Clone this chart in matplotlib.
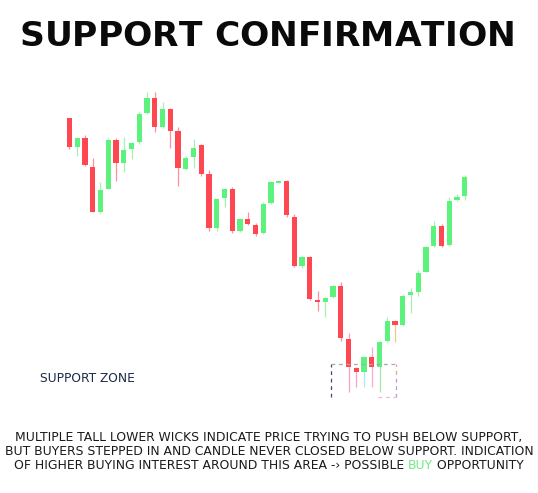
import matplotlib
matplotlib.use("Agg")
import matplotlib.pyplot as plt
import numpy as np

# ---------------- data (price units) ----------------
opens = [301.7, 273.3, 281.7, 253.3, 208.3, 231.0, 280.0, 256.7, 270.7, 277.7,
         306.7, 321.7, 293.3, 310.7, 289.0, 251.0, 263.3, 275.0, 245.7, 191.7,
         221.7, 230.7, 189.3, 200.7, 195.0, 186.7, 216.7, 237.3, 239.0, 203.0,
         154.0, 162.7, 120.0, 118.3, 123.0, 134.0, 81.0, 51.7, 48.3, 63.3,
         52.7, 79.0, 99.0, 95.0, 125.0, 128.3, 148.3, 174.0, 194.0, 175.0,
         220.0, 224.3]
closes = [272.7, 281.7, 255.0, 208.3, 230.0, 280.0, 256.7, 270.0, 276.7, 305.7,
          321.7, 293.3, 310.7, 289.3, 251.7, 262.3, 272.3, 245.7, 191.7, 220.7,
          230.7, 189.3, 200.7, 196.0, 186.0, 216.0, 237.7, 238.7, 205.0, 154.0,
          162.7, 121.0, 118.3, 122.0, 134.0, 81.7, 52.7, 48.3, 63.3, 52.7,
          78.3, 99.0, 95.0, 124.3, 127.7, 146.7, 173.3, 194.0, 174.0, 219.3,
          223.3, 242.7]
highs = [302.0, 283.3, 285.0, 261.7, 237.7, 281.7, 281.7, 282.7, 277.7, 308.3,
         327.7, 327.7, 318.3, 311.7, 292.7, 264.0, 281.0, 276.0, 250.0, 221.7,
         232.3, 233.3, 201.7, 208.3, 197.3, 217.7, 239.0, 239.3, 240.0, 206.0,
         164.0, 164.0, 129.0, 123.0, 135.0, 137.7, 87.3, 52.7, 64.0, 73.3,
         79.0, 103.3, 100.0, 126.0, 131.7, 150.0, 174.0, 199.0, 196.0, 223.3,
         225.7, 245.0]
lows = [271.5, 264.3, 254.0, 207.7, 207.3, 230.7, 239.3, 247.7, 261.0, 276.0,
        306.0, 287.7, 292.3, 271.7, 234.3, 250.3, 251.7, 244.3, 189.3, 189.3,
        212.7, 186.7, 188.3, 195.0, 184.3, 185.7, 216.0, 237.0, 203.3, 153.0,
        151.7, 120.0, 109.3, 103.3, 122.3, 79.0, 27.7, 33.3, 33.3, 33.3,
        27.7, 78.3, 78.3, 94.3, 107.3, 124.0, 147.7, 173.3, 173.3, 174.3,
        219.3, 220.0]

# special wick colours inside the support zone (index -> colour)
special_wicks = {36: "#FF9EC6", 37: "#FF9EC6", 38: "#A6EEF4",
                 39: "#FFA6CE", 40: "#A6E6A6", 42: "#FFC286"}

title = "SUPPORT CONFIRMATION"
zone_label = "SUPPORT ZONE"
line1 = "MULTIPLE TALL LOWER WICKS INDICATE PRICE TRYING TO PUSH BELOW SUPPORT,"
line2 = "BUT BUYERS STEPPED IN AND CANDLE NEVER CLOSED BELOW SUPPORT. INDICATION"
line3_parts = ["OF HIGHER BUYING INTEREST AROUND THIS AREA -› POSSIBLE ", "BUY", " OPPORTUNITY"]

RED = "#FF4752"
GREEN = "#5DF27E"
RED_WICK = "#FF9098"
GREEN_WICK = "#A2F2B4"

# ---------------- figure ----------------
W, H = 538, 493
fig = plt.figure(figsize=(W / 100, H / 100), dpi=100)
fig.patch.set_facecolor("white")
ax = fig.add_axes([0, 0, 1, 1])
ax.axis("off")

step = 7.75
x0 = 69.5
ax.set_xlim(-x0 / step, (W - x0) / step)
ax.set_ylim(420 - H, 420)

o = np.array(opens); c = np.array(closes)
hi = np.array(highs); lo = np.array(lows)
x = np.arange(len(o))
up = c >= o
body_col = np.where(up, GREEN, RED)
wick_col = [special_wicks.get(i, GREEN_WICK if up[i] else RED_WICK) for i in range(len(o))]

ax.vlines(x, lo, hi, colors=wick_col, linewidth=0.9, zorder=1)
ax.bar(x, np.abs(c - o), bottom=np.minimum(o, c), width=0.68,
       color=body_col, edgecolor="none", zorder=2)

# support zone dashed box
bx0, bx1 = 33.7, 42.1
by0, by1 = 22.7, 55.7
dash = dict(linestyle=(0, (3, 3)), linewidth=0.9, zorder=3)
ax.plot([bx0, bx0], [by0, by1], color="#3D4B6B", **dash)
ax.plot([bx0, bx1], [by1, by1], color="#A8A8A8", **dash)
ax.plot([bx1, bx1], [by1 - 10, by1], color="#E8A0A0", **dash)
ax.plot([bx1, bx1], [by0, by1 - 10], color="#B898D8", **dash)
ax.plot([bx1 - 2.3, bx1], [by0, by0], color="#F4B8C0", **dash)

renderer = fig.canvas.get_renderer()

def fy(py):
    return 1 - py / H

def fit(t, target_w):
    w = t.get_window_extent(renderer).width
    t.set_fontsize(t.get_fontsize() * target_w / w)

def spaced_text(s, left_px, right_px, base_px, fontsize, **kw):
    """Draw s char by char, spreading it to span left_px..right_px."""
    objs = []
    widths = []
    probe = fig.text(0, 0, "AA", fontsize=fontsize, **kw)
    waa = probe.get_window_extent(renderer).width
    probe.set_text("A A")
    space_w = probe.get_window_extent(renderer).width - waa
    probe.remove()
    for ch in s:
        if ch == " ":
            objs.append(None)
            widths.append(space_w)
        else:
            t = fig.text(0, fy(base_px), ch, ha="left", va="baseline",
                         fontsize=fontsize, **kw)
            objs.append(t)
            widths.append(t.get_window_extent(renderer).width)
    gap = (right_px - left_px - sum(widths)) / (len(s) - 1)
    pos = left_px
    for t, w in zip(objs, widths):
        if t is not None:
            t.set_x(pos / W)
        pos += w + gap
    return objs

# title (cap height ~25px, spread to 19..515 px)
spaced_text(title, 19.5, 515.5, 45.8, 24.8, fontweight="bold",
            color="#0A0A0A", family="DejaVu Sans")

# zone label
zl = fig.text(40 / W, fy(382.5), zone_label, ha="left", va="baseline",
              fontsize=8, color="#1B2A47", family="DejaVu Sans")
fit(zl, 95)

# bottom text
t2 = fig.text(0.5, fy(454.7), line2, ha="center", va="baseline",
              fontsize=8, color="#1A1A1A", family="DejaVu Sans")
fit(t2, 528)
fs = t2.get_fontsize()
t1 = fig.text(0.5, fy(440.7), line1, ha="center", va="baseline",
              fontsize=fs, color="#1A1A1A", family="DejaVu Sans")

parts = []
cols = ["#1A1A1A", "#6EEA86", "#1A1A1A"]
for s, col in zip(line3_parts, cols):
    parts.append(fig.text(0, fy(469), s, ha="left", va="baseline",
                          fontsize=fs, color=col, family="DejaVu Sans"))
widths = [p.get_window_extent(renderer).width for p in parts]
total = sum(widths)
start = (W - total) / 2
for p, w in zip(parts, widths):
    p.set_x(start / W)
    start += w

fig.savefig("out.png", dpi=100, facecolor="white")
